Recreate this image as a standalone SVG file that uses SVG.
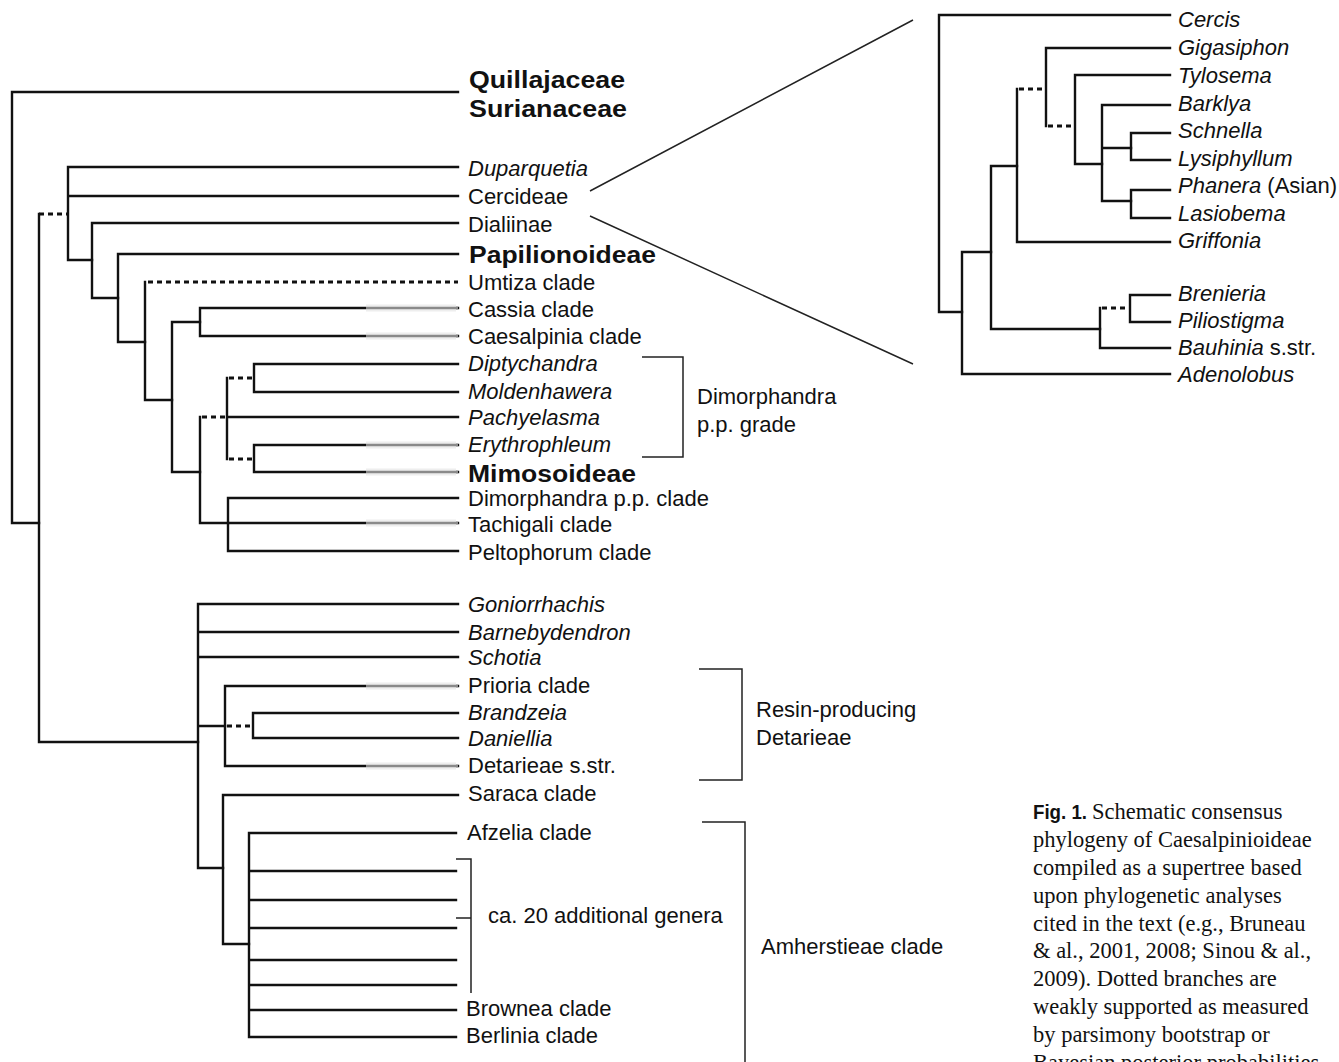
<svg xmlns="http://www.w3.org/2000/svg" width="1339" height="1062" viewBox="0 0 1339 1062">
<style>
text{font-family:"Liberation Sans",Arial,sans-serif;font-size:22px;fill:#111}
.i{font-style:italic}
.r{font-style:normal}
.b{font-weight:bold;font-size:23px}
.cap{font-family:"Liberation Serif","Times New Roman",serif;font-size:22.5px}
.fig{font-family:"Liberation Sans",Arial,sans-serif;font-weight:bold;font-size:20px}
.e{fill:none;stroke:#111;stroke-width:2.4;stroke-linecap:square}
.d{fill:none;stroke:#111;stroke-width:3;stroke-dasharray:5 4}
.br{fill:none;stroke:#222;stroke-width:1.5}
.band{fill:none;stroke:#eeeeee;stroke-width:7}
.gr{fill:none;stroke:#8a8a8a;stroke-width:2.4}
</style>
<rect width="1339" height="1062" fill="#fff"/>
<g id="connectors">
  <!-- main tree -->
  <path class="e" d="M12,92 V523 H39 M12,92 H458"/>
  <path class="e" d="M39,214 V742 H198"/>
  <path class="d" d="M39,214 H68"/>
  <path class="e" d="M68,167 V260 H92 M68,167 H458 M68,196 H458"/>
  <path class="e" d="M92,223 V298 H118 M92,223 H458"/>
  <path class="e" d="M118,254 V342 H145 M118,254 H458"/>
  <path class="e" d="M145,282 V400 H172"/>
  <path class="d" d="M148,282 H458"/>
  <path class="e" d="M172,322 V472 H200 M172,322 H200"/>
  <path class="e" d="M200,308 V336 M200,308 H458 M200,336 H458"/>
  <path class="e" d="M200,417 V523 H228"/>
  <path class="d" d="M202,417 H227"/>
  <path class="e" d="M227,378 V459 M227,417 H458"/>
  <path class="d" d="M229,378 H254 M229,459 H254"/>
  <path class="e" d="M254,364 V392 M254,364 H458 M254,392 H458"/>
  <path class="e" d="M254,445 V472 M254,445 H458 M254,472 H458"/>
  <path class="e" d="M228,498 V551 M228,498 H458 M228,523 H458 M228,551 H458"/>
  <path class="e" d="M198,604 V868 H223 M198,604 H458 M198,632 H458 M198,657 H458 M198,726 H225"/>
  <path class="e" d="M225,686 V766 M225,686 H458 M225,766 H458"/>
  <path class="d" d="M227,726 H253"/>
  <path class="e" d="M253,713 V738 M253,713 H458 M253,738 H458"/>
  <path class="e" d="M223,795 V944 H249 M223,795 H458"/>
  <path class="e" d="M249,833 V1037 M249,833 H456 M249,871 H456 M249,900 H456 M249,928 H456 M249,960 H456 M249,985 H456 M249,1010 H456 M249,1037 H456"/>
  <!-- faded scan segments -->
  <path class="band" d="M366,308 H456 M366,336 H456 M366,445 H456 M366,472 H456 M366,523 H456 M366,686 H456 M366,766 H456"/>
  <path class="gr" d="M366,308 H458 M366,336 H458 M366,445 H458 M366,472 H458 M366,523 H458 M366,686 H458 M366,766 H458"/>
  <!-- brackets -->
  <path class="br" d="M642,357 H683 V457 H642"/>
  <path class="br" d="M699,669 H742 V780 H699"/>
  <path class="br" d="M456,859 H471 V993 M456,918 H471"/>
  <path class="br" d="M702,822 H745 V1062"/>
  <!-- zoom lines -->
  <path class="br" d="M590,191 L913,20 M590,216 L913,364"/>
  <!-- inset tree -->
  <path class="e" d="M939,15 V312 H962 M939,15 H1170"/>
  <path class="e" d="M962,252 V374 M962,252 H991 M962,374 H1170"/>
  <path class="e" d="M991,166 V329 H1100 M991,166 H1017"/>
  <path class="e" d="M1017,89 V242 H1170"/>
  <path class="d" d="M1019,89 H1046"/>
  <path class="e" d="M1046,48 V126 M1046,48 H1170"/>
  <path class="d" d="M1048,126 H1075"/>
  <path class="e" d="M1075,75 V164 H1102 M1075,75 H1170"/>
  <path class="e" d="M1102,105 V201 H1131 M1102,105 H1170 M1102,148 H1131"/>
  <path class="e" d="M1131,133 V160 M1131,133 H1170 M1131,160 H1170"/>
  <path class="e" d="M1131,190 V218 M1131,190 H1170 M1131,218 H1170"/>
  <path class="e" d="M1100,308 V348 H1170"/>
  <path class="d" d="M1102,308 H1130"/>
  <path class="e" d="M1130,295 V322 M1130,295 H1170 M1130,322 H1170"/>
</g>
<g id="main-labels">
  <g id="n-quillajaceae"><text class="b" x="469" y="88" textLength="156" lengthAdjust="spacingAndGlyphs">Quillajaceae</text></g>
  <g id="n-surianaceae"><text class="b" x="469" y="117" textLength="158" lengthAdjust="spacingAndGlyphs">Surianaceae</text></g>
  <g id="n-duparquetia"><text class="i" x="468" y="176">Duparquetia</text></g>
  <g id="n-cercideae"><text x="468" y="204">Cercideae</text></g>
  <g id="n-dialiinae"><text x="468" y="232">Dialiinae</text></g>
  <g id="n-papilionoideae"><text class="b" x="469" y="263" textLength="187" lengthAdjust="spacingAndGlyphs">Papilionoideae</text></g>
  <g id="n-umtiza"><text x="468" y="290">Umtiza clade</text></g>
  <g id="n-cassia"><text x="468" y="317">Cassia clade</text></g>
  <g id="n-caesalpinia"><text x="468" y="344">Caesalpinia clade</text></g>
  <g id="n-diptychandra"><text class="i" x="468" y="371">Diptychandra</text></g>
  <g id="n-moldenhawera"><text class="i" x="468" y="399">Moldenhawera</text></g>
  <g id="n-pachyelasma"><text class="i" x="468" y="425">Pachyelasma</text></g>
  <g id="n-erythrophleum"><text class="i" x="468" y="452">Erythrophleum</text></g>
  <g id="n-mimosoideae"><text class="b" x="468" y="482" textLength="168" lengthAdjust="spacingAndGlyphs">Mimosoideae</text></g>
  <g id="n-dimorphandra-clade"><text x="468" y="506">Dimorphandra p.p. clade</text></g>
  <g id="n-tachigali"><text x="468" y="532">Tachigali clade</text></g>
  <g id="n-peltophorum"><text x="468" y="560">Peltophorum clade</text></g>
  <g id="n-dimorphandra-grade"><text x="697" y="404">Dimorphandra</text><text x="697" y="432">p.p. grade</text></g>
  <g id="n-goniorrhachis"><text class="i" x="468" y="612">Goniorrhachis</text></g>
  <g id="n-barnebydendron"><text class="i" x="468" y="640">Barnebydendron</text></g>
  <g id="n-schotia"><text class="i" x="468" y="665">Schotia</text></g>
  <g id="n-prioria"><text x="468" y="693">Prioria clade</text></g>
  <g id="n-brandzeia"><text class="i" x="468" y="720">Brandzeia</text></g>
  <g id="n-daniellia"><text class="i" x="468" y="746">Daniellia</text></g>
  <g id="n-detarieae"><text x="468" y="773">Detarieae s.str.</text></g>
  <g id="n-saraca"><text x="468" y="801">Saraca clade</text></g>
  <g id="n-resin"><text x="756" y="717">Resin-producing</text><text x="756" y="745">Detarieae</text></g>
  <g id="n-afzelia"><text x="467" y="840">Afzelia clade</text></g>
  <g id="n-additional"><text x="488" y="923">ca. 20 additional genera</text></g>
  <g id="n-brownea"><text x="466" y="1016">Brownea clade</text></g>
  <g id="n-berlinia"><text x="466" y="1043">Berlinia clade</text></g>
  <g id="n-amherstieae"><text x="761" y="954">Amherstieae clade</text></g>
</g>
<g id="inset-labels">
  <g id="n-cercis"><text class="i" x="1178" y="27">Cercis</text></g>
  <g id="n-gigasiphon"><text class="i" x="1178" y="55">Gigasiphon</text></g>
  <g id="n-tylosema"><text class="i" x="1178" y="83">Tylosema</text></g>
  <g id="n-barklya"><text class="i" x="1178" y="111">Barklya</text></g>
  <g id="n-schnella"><text class="i" x="1178" y="138">Schnella</text></g>
  <g id="n-lysiphyllum"><text class="i" x="1178" y="166">Lysiphyllum</text></g>
  <g id="n-phanera"><text class="i" x="1178" y="193">Phanera<tspan class="r"> (Asian)</tspan></text></g>
  <g id="n-lasiobema"><text class="i" x="1178" y="221">Lasiobema</text></g>
  <g id="n-griffonia"><text class="i" x="1178" y="248">Griffonia</text></g>
  <g id="n-brenieria"><text class="i" x="1178" y="301">Brenieria</text></g>
  <g id="n-piliostigma"><text class="i" x="1178" y="328">Piliostigma</text></g>
  <g id="n-bauhinia"><text class="i" x="1178" y="355">Bauhinia<tspan class="r"> s.str.</tspan></text></g>
  <g id="n-adenolobus"><text class="i" x="1178" y="382">Adenolobus</text></g>
</g>
<g id="caption">
  <text class="fig" x="1033" y="819" textLength="54" lengthAdjust="spacingAndGlyphs">Fig. 1.</text>
  <text class="cap" x="1092" y="819">Schematic consensus</text>
  <text class="cap" x="1033" y="847">phylogeny of Caesalpinioideae</text>
  <text class="cap" x="1033" y="875">compiled as a supertree based</text>
  <text class="cap" x="1033" y="903">upon phylogenetic analyses</text>
  <text class="cap" x="1033" y="931">cited in the text (e.g., Bruneau</text>
  <text class="cap" x="1033" y="958">&amp; al., 2001, 2008; Sinou &amp; al.,</text>
  <text class="cap" x="1033" y="986">2009). Dotted branches are</text>
  <text class="cap" x="1033" y="1014">weakly supported as measured</text>
  <text class="cap" x="1033" y="1042">by parsimony bootstrap or</text>
  <text class="cap" x="1033" y="1070">Bayesian posterior probabilities</text>
</g>
</svg>
